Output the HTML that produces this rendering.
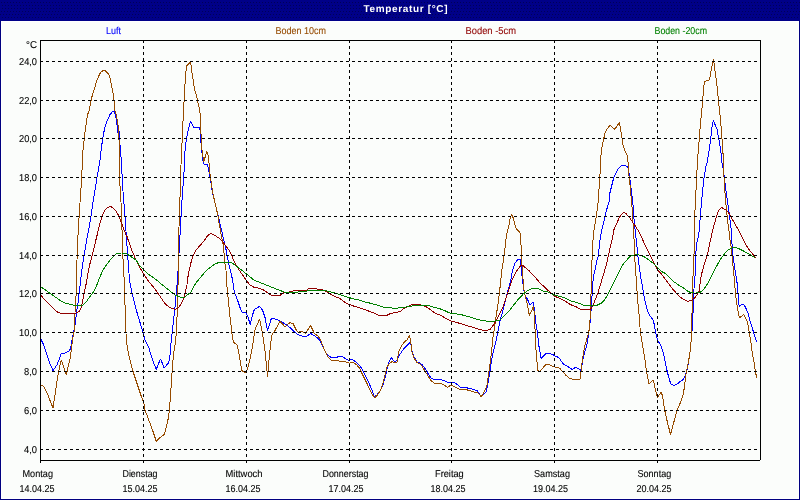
<!DOCTYPE html>
<html><head><meta charset="utf-8"><title>Temperatur</title>
<style>
html,body{margin:0;padding:0;background:#000080;}
body{width:800px;height:500px;overflow:hidden;position:relative;}
svg{position:absolute;left:0;top:0;display:block;}
text{text-rendering:geometricPrecision;font-family:"Liberation Sans", "DejaVu Sans", sans-serif;font-size:10px;color:#000;fill:currentColor;stroke:currentColor;stroke-width:0.1px;}
</style></head><body>
<svg width="800" height="500" viewBox="0 0 800 500">
<defs><pattern id="dith" x="0" y="0" width="3" height="21" patternUnits="userSpaceOnUse"><rect width="3" height="21" fill="#000088"/><g fill="#000058"><rect x="1" y="2" width="1" height="1"/><rect x="2" y="5" width="1" height="1"/><rect x="2" y="8" width="1" height="1"/><rect x="1" y="11" width="1" height="1"/><rect x="0" y="14" width="1" height="1"/><rect x="2" y="17" width="1" height="1"/></g></pattern></defs>
<rect x="0" y="0" width="800" height="500" fill="#000080"/>
<rect x="0" y="0" width="800" height="21" fill="url(#dith)" shape-rendering="crispEdges"/>
<rect x="1" y="21" width="798" height="478" fill="#ffffff"/>
<rect x="2" y="22" width="796" height="476" fill="#fbfdfb"/>
<text x="363.5" y="12" textLength="84" lengthAdjust="spacing" style="font-weight:bold;color:#fff;stroke:none">Temperatur [°C]</text>
<text x="106" y="34" textLength="15" lengthAdjust="spacingAndGlyphs" style="color:#0000ff">Luft</text>
<text x="275.5" y="34" textLength="50.5" lengthAdjust="spacingAndGlyphs" style="color:#964b00">Boden 10cm</text>
<text x="465.5" y="34" textLength="50.5" lengthAdjust="spacingAndGlyphs" style="color:#900000">Boden -5cm</text>
<text x="654.5" y="34" textLength="52.5" lengthAdjust="spacingAndGlyphs" style="color:#008000">Boden -20cm</text>
<text x="26" y="48" textLength="11" lengthAdjust="spacingAndGlyphs">°C</text>
<g fill="none" stroke-width="1" stroke-linejoin="bevel" shape-rendering="crispEdges">
<polyline stroke="#0000ff" points="40.00,337.50 43.75,345.00 46.25,352.50 50.00,363.75 53.00,370.50 57.00,365.00 61.25,353.75 65.00,353.00 68.75,351.25 70.50,348.75 72.00,340.00 73.60,332.00 75.00,325.30 75.90,318.60 76.60,311.80 77.80,305.10 78.90,295.00 80.00,286.00 81.10,276.00 82.50,265.00 86.25,242.50 90.00,222.50 93.75,197.50 97.00,177.50 100.00,160.00 100.75,152.50 102.50,140.00 104.50,128.75 107.00,121.25 110.00,114.50 112.50,111.75 114.00,111.50 115.50,115.00 117.00,125.00 118.00,132.50 119.00,131.25 120.00,145.00 121.50,162.50 122.50,185.00 124.50,210.00 126.25,235.00 128.00,260.00 129.50,280.00 132.50,295.00 136.25,310.00 140.00,322.50 143.75,335.00 145.00,340.00 148.75,347.50 152.50,360.00 156.25,369.50 160.50,358.75 164.25,368.00 168.75,362.50 170.00,355.00 171.25,340.00 172.50,330.00 175.00,307.50 176.25,292.50 177.50,280.00 180.00,235.00 182.00,200.00 184.00,172.00 184.50,166.00 184.70,154.80 185.60,144.70 186.70,136.90 187.80,132.40 189.00,126.80 190.40,121.20 192.30,124.60 194.00,127.90 196.80,127.40 199.60,127.40 200.40,132.40 201.00,142.50 201.80,150.30 202.40,157.00 203.50,163.75 204.60,164.90 206.30,164.30 207.40,164.90 207.90,166.70 209.00,172.30 210.20,177.90 211.30,184.60 212.40,192.50 214.10,199.20 215.80,205.90 217.40,212.60 218.50,216.70 220.20,224.60 221.80,231.30 223.50,239.10 225.20,245.80 226.65,252.50 227.80,259.30 229.30,266.00 232.00,277.50 232.50,280.00 234.40,292.50 237.50,300.00 240.00,307.50 241.90,312.25 245.60,312.50 248.10,317.50 250.25,324.40 252.50,315.00 254.40,309.40 256.90,308.10 259.40,306.25 262.50,310.00 265.00,317.50 267.50,330.60 269.40,325.00 271.25,318.75 273.75,318.50 276.25,319.40 280.00,321.00 283.75,323.10 287.50,325.60 291.25,328.75 295.00,332.50 298.75,335.00 300.00,335.00 302.50,336.25 306.25,336.50 310.60,333.50 313.75,335.25 316.90,337.50 319.40,339.75 321.90,345.00 325.00,351.25 327.50,355.00 331.25,357.50 336.25,357.50 339.40,356.25 342.50,356.50 345.60,358.75 348.75,360.60 351.90,359.40 355.00,361.25 358.75,364.40 361.90,368.75 365.00,375.00 368.75,382.50 371.90,390.00 374.40,396.90 376.90,395.00 380.00,391.25 382.50,386.25 384.40,380.00 386.25,372.50 387.50,366.25 389.40,361.25 391.25,357.50 393.10,360.00 395.00,361.90 396.90,360.00 398.75,356.25 401.25,352.50 403.75,348.75 406.25,346.25 409.40,343.10 410.60,341.90 411.90,351.25 413.75,356.25 416.90,361.90 420.00,363.10 421.90,364.40 424.40,367.50 426.90,371.25 428.75,375.00 431.25,378.10 435.00,380.00 438.10,379.75 440.00,379.40 443.75,380.60 447.50,382.25 451.25,382.50 455.60,383.10 458.10,385.25 460.60,387.25 465.00,387.50 470.00,388.50 473.75,389.40 477.50,391.00 479.40,393.75 481.25,396.90 483.75,394.40 486.25,391.90 487.50,386.25 488.75,378.75 490.00,371.25 491.25,362.50 492.50,355.00 494.40,347.50 496.25,340.00 497.50,333.75 499.40,323.75 501.25,316.25 503.10,310.00 505.60,300.00 508.10,290.00 510.60,281.25 512.40,270.30 515.10,263.00 517.80,259.50 520.00,259.00 521.40,268.50 522.30,279.20 524.40,293.75 527.50,299.40 530.00,305.00 533.10,301.90 534.40,308.75 535.60,321.25 537.50,332.50 538.75,345.00 541.25,358.75 543.75,355.60 546.25,353.50 550.00,353.50 553.10,354.75 555.60,356.25 558.75,357.50 563.10,363.75 567.50,366.25 571.90,369.40 575.60,367.50 578.75,368.50 580.60,370.60 581.90,365.00 583.10,358.75 585.00,351.25 586.90,345.00 588.10,337.50 588.75,332.50 589.75,325.00 590.60,317.50 591.25,307.50 591.90,297.50 592.50,288.75 593.10,280.00 594.00,273.75 595.00,270.00 596.50,262.00 598.40,256.00 599.00,249.30 600.10,239.20 601.20,232.50 602.90,225.80 604.60,217.90 606.20,211.20 607.90,205.60 609.60,200.00 610.00,192.50 613.75,177.50 617.50,170.00 618.75,168.10 621.25,166.00 623.75,165.00 626.25,166.00 628.10,167.50 630.00,180.00 631.50,192.50 632.55,200.00 633.70,213.40 634.20,222.40 635.35,231.40 636.50,242.60 637.30,249.30 637.90,256.00 639.00,265.00 639.75,270.00 640.60,277.50 642.50,286.25 643.75,295.00 645.60,303.75 647.50,311.25 649.40,315.00 651.25,317.50 653.10,320.00 654.40,325.00 655.60,332.00 657.50,340.00 661.25,346.25 663.75,355.00 666.25,367.50 668.75,377.50 670.75,383.75 673.75,385.50 677.50,383.75 680.00,381.60 682.80,380.00 685.00,376.00 687.00,370.40 688.40,362.50 690.10,351.25 691.25,340.00 692.25,328.75 693.10,311.25 694.00,288.75 695.00,276.25 695.75,254.60 696.60,243.40 697.40,240.00 698.75,235.00 701.25,205.00 703.75,180.00 706.25,165.00 707.25,162.00 708.75,152.50 710.60,140.00 711.50,131.25 712.50,123.75 713.50,120.25 715.00,124.40 716.90,128.75 718.10,135.00 719.40,142.50 720.60,150.00 721.50,157.50 721.90,162.00 723.75,172.50 726.25,192.50 728.75,210.00 731.25,230.00 731.75,240.00 732.30,247.90 733.10,256.90 734.60,267.00 736.00,276.00 737.40,285.00 738.10,294.00 738.70,303.50 739.60,306.90 741.30,304.60 743.60,304.10 745.80,308.00 748.10,313.60 749.75,320.40 752.00,327.10 753.70,332.75 755.40,338.40 756.50,341.75"/>
<polyline stroke="#964b00" points="40.00,385.00 43.75,386.25 47.50,393.75 51.25,403.75 53.00,408.00 55.00,395.00 57.50,377.50 59.50,367.50 61.25,360.00 63.75,367.50 66.25,375.00 68.00,367.50 70.00,358.75 71.25,350.00 72.50,340.00 74.00,332.00 74.70,320.80 75.00,313.00 75.50,297.30 76.60,295.00 76.60,276.00 77.00,260.00 78.00,235.00 79.50,210.00 81.25,185.00 82.50,160.00 83.00,150.00 85.00,132.50 87.50,115.00 89.30,110.00 91.00,100.50 92.50,94.50 94.50,88.50 96.50,81.50 98.50,76.50 100.80,72.00 104.00,70.00 105.50,71.00 109.50,75.30 111.50,85.00 113.00,93.00 114.00,100.00 114.80,110.00 116.25,115.00 118.00,125.00 119.00,140.00 119.50,150.00 119.50,166.00 119.50,180.00 120.40,191.20 121.00,202.40 121.50,213.60 121.70,224.80 122.40,236.00 122.60,254.00 123.10,260.00 124.20,280.00 124.80,288.00 125.00,305.00 126.25,340.00 128.75,355.00 132.50,370.00 137.50,385.00 141.25,396.25 143.75,402.50 145.00,410.00 148.75,420.00 152.50,430.00 156.25,441.25 160.00,437.50 164.25,434.50 166.25,427.50 168.75,416.25 170.00,402.50 171.25,385.00 172.50,365.00 173.75,352.50 175.50,342.00 176.30,333.00 176.90,319.60 177.40,308.40 178.00,286.00 178.40,260.00 178.75,235.00 179.50,210.00 180.50,185.00 181.00,166.00 181.10,154.80 182.00,143.60 182.80,126.80 183.40,110.00 184.20,100.00 184.50,93.00 185.50,75.50 186.50,66.00 190.00,62.50 190.50,62.00 191.20,66.00 192.00,73.00 193.30,81.00 194.50,89.00 195.50,93.00 196.80,96.50 197.50,101.25 199.00,107.00 199.60,110.00 200.20,114.50 200.70,129.00 201.30,139.00 201.80,148.00 203.00,157.00 203.70,161.50 205.20,157.00 206.90,151.40 207.80,153.70 208.60,159.30 209.30,166.00 209.90,173.40 210.70,179.00 211.80,186.90 213.00,193.60 214.60,201.40 216.30,208.20 218.00,216.00 219.00,223.40 220.40,230.20 221.80,238.00 223.00,243.60 223.70,250.30 224.40,257.00 225.20,266.00 226.00,270.00 226.25,280.00 228.10,297.50 229.40,311.25 231.25,327.50 232.50,338.75 233.75,342.50 236.90,344.40 238.75,352.50 240.60,363.75 241.90,370.60 244.40,372.50 246.25,373.10 247.50,368.75 250.00,358.75 252.50,346.25 254.00,336.25 255.00,330.00 256.90,325.00 259.60,319.40 261.90,330.00 263.10,337.50 265.00,351.25 266.50,365.00 267.50,376.90 268.50,365.00 270.00,350.00 271.50,336.25 272.50,333.75 275.00,330.60 276.25,328.00 280.00,321.25 285.00,326.90 290.00,322.50 293.10,323.75 296.25,330.00 298.75,332.50 300.00,331.25 302.50,331.90 305.60,333.50 308.10,329.40 310.60,325.60 312.50,329.40 314.40,333.75 317.50,335.60 320.00,338.75 322.50,345.00 325.00,351.25 327.50,356.25 331.25,360.00 336.25,360.60 340.00,361.25 344.40,361.50 349.40,363.10 352.50,362.25 356.25,364.40 359.40,368.10 362.50,374.40 366.25,381.90 370.00,390.00 373.10,395.60 374.75,398.10 377.50,395.00 380.60,390.00 383.10,382.50 385.00,375.00 386.90,366.90 389.40,363.75 391.90,361.50 395.00,362.75 396.90,362.50 398.75,351.90 401.25,346.25 404.40,341.90 406.90,340.00 409.50,335.50 410.60,340.60 411.90,351.25 413.75,357.50 416.90,362.50 420.00,363.75 422.50,366.90 425.00,371.25 427.50,375.00 430.60,380.00 435.00,384.00 440.00,383.10 443.75,385.00 447.50,387.25 451.25,385.00 455.00,386.90 459.40,389.10 465.00,389.40 470.00,390.60 473.75,391.90 477.50,392.50 479.40,394.40 481.25,396.90 484.40,391.25 486.90,386.25 488.10,377.50 489.40,368.75 490.60,358.75 491.90,348.75 492.50,340.00 493.75,332.50 495.00,323.75 496.90,311.25 498.75,298.75 499.75,290.00 500.60,281.90 501.60,272.00 504.30,254.00 506.50,235.40 507.90,229.10 509.00,225.00 509.65,220.70 510.70,216.50 511.50,214.60 513.50,218.60 514.50,222.80 515.60,227.00 516.70,229.00 518.40,230.90 520.50,233.30 521.40,254.00 522.30,272.00 523.10,280.00 523.75,288.75 525.00,295.00 526.90,302.50 529.40,315.60 531.90,310.00 533.50,306.25 534.40,315.00 535.00,328.75 535.60,345.00 536.90,360.00 537.50,370.00 539.40,371.25 541.25,370.00 543.75,366.90 546.25,364.40 548.75,364.40 551.25,365.60 554.40,366.90 559.40,368.10 562.50,371.25 566.25,375.60 570.00,378.75 575.00,379.40 580.00,379.40 580.60,375.00 581.50,367.50 582.50,358.75 583.75,351.25 585.00,345.00 586.90,338.75 588.75,332.50 589.40,327.50 590.00,320.00 590.60,307.50 591.00,295.00 591.25,282.50 591.50,270.00 592.20,256.00 592.50,247.00 593.10,239.20 593.90,230.20 595.00,224.60 596.20,216.80 596.90,212.30 597.80,205.60 598.40,199.00 598.60,190.00 599.40,188.00 599.60,180.00 600.00,174.60 600.60,160.00 601.50,150.00 602.50,145.00 603.75,138.75 605.00,133.10 606.50,129.40 610.25,125.25 614.40,129.40 616.90,126.25 619.40,122.50 620.60,128.75 621.90,137.50 623.10,145.60 625.00,151.25 627.25,155.60 628.10,162.50 628.50,172.00 630.00,185.00 631.40,200.00 632.00,206.70 632.55,216.80 633.10,224.60 633.70,233.60 634.20,242.60 634.60,256.00 635.60,270.00 636.50,282.50 637.25,295.00 638.10,305.00 639.00,313.75 639.75,322.50 640.25,332.00 642.50,345.00 645.00,360.00 646.30,370.00 649.10,384.00 653.30,379.80 654.70,386.80 657.50,397.30 661.00,392.40 662.40,395.20 664.50,409.20 667.30,421.80 670.50,434.40 674.30,420.40 677.10,410.60 680.60,402.20 683.40,393.80 684.80,384.00 685.50,377.00 686.90,370.00 688.40,362.50 690.10,351.25 691.25,340.00 691.25,332.75 691.80,318.10 692.40,303.50 692.40,290.00 692.90,279.40 693.30,268.10 693.50,255.75 694.10,253.50 694.60,240.00 695.00,210.00 696.25,185.00 697.50,160.00 698.75,145.00 699.75,132.50 700.60,121.25 701.90,110.00 702.50,100.00 703.10,95.00 703.75,87.50 704.40,81.90 706.90,80.60 709.40,79.75 710.60,73.75 711.50,68.75 712.50,63.10 713.50,59.40 714.40,66.25 715.25,72.50 716.25,79.40 717.10,86.90 717.90,95.00 718.50,100.00 719.40,110.00 720.60,120.00 721.25,130.00 721.90,137.50 722.50,145.00 723.10,155.00 723.75,162.00 723.90,175.00 725.00,192.50 726.25,207.50 727.50,220.00 729.50,235.00 730.00,240.00 731.20,246.75 732.00,254.60 732.90,264.75 733.80,273.75 734.60,282.75 735.35,291.75 736.25,300.10 737.40,306.90 738.30,312.50 739.40,318.10 741.30,316.40 743.60,314.20 745.80,318.10 747.50,322.60 748.60,328.25 749.75,335.00 750.90,341.75 752.00,351.25 753.70,360.25 755.10,369.25 755.90,373.75 756.50,377.70"/>
<polyline stroke="#900000" points="40.50,295.00 43.60,298.40 48.10,302.90 52.60,307.40 57.00,311.80 60.40,313.20 66.00,313.50 71.60,313.50 76.10,313.00 79.40,311.30 81.10,307.90 82.20,302.90 83.40,297.30 85.00,289.40 86.40,282.70 87.50,276.00 89.50,265.60 91.20,258.90 92.90,252.20 94.60,245.40 96.20,238.70 97.90,232.00 98.50,229.30 100.20,222.60 101.90,217.00 103.60,212.50 105.80,209.10 109.70,206.30 112.50,207.40 115.30,210.20 117.60,213.60 119.30,217.00 120.90,221.40 122.60,225.90 124.30,230.40 126.00,234.90 127.00,236.50 129.30,243.20 131.50,249.90 133.75,254.40 135.40,258.90 141.25,270.00 147.50,280.00 153.75,287.50 160.00,296.25 165.00,303.75 170.00,307.50 175.00,309.50 178.75,307.50 182.50,301.25 185.00,293.75 187.00,285.00 187.20,280.80 188.90,271.80 190.60,264.00 192.80,256.20 195.60,250.60 199.50,246.10 203.40,241.60 207.40,236.00 210.60,233.30 214.00,234.90 217.90,237.40 221.30,240.00 224.10,243.60 226.90,247.50 229.10,250.30 231.40,254.80 233.60,260.40 235.80,264.90 240.00,271.25 244.00,277.00 246.90,281.25 249.40,284.40 253.75,287.25 258.75,288.10 262.50,289.40 266.25,291.90 271.25,295.25 275.00,295.25 280.00,295.25 283.75,292.90 287.50,292.50 292.50,291.25 296.25,290.25 300.00,290.40 306.25,290.40 307.75,289.35 309.25,288.40 316.75,288.40 317.50,289.50 322.00,289.65 325.00,290.60 328.00,292.50 331.00,294.40 334.00,295.90 337.00,297.40 340.00,298.50 345.00,302.50 350.00,304.75 355.00,306.50 360.00,308.10 365.00,309.75 370.00,311.50 375.00,313.50 378.75,315.60 382.50,315.60 386.25,315.60 390.00,313.75 395.00,312.50 400.00,311.70 403.40,308.90 406.70,307.20 410.10,305.50 412.90,304.40 419.60,304.40 425.80,306.60 430.20,309.40 433.60,312.20 437.00,313.90 441.40,315.60 445.90,318.40 449.20,320.10 451.50,321.20 456.00,322.30 460.00,323.40 465.00,325.00 470.00,326.50 475.00,328.10 480.00,329.75 483.75,330.25 486.90,330.25 490.00,329.40 492.50,326.25 495.00,322.50 497.50,318.10 500.00,313.10 502.50,308.10 505.00,301.25 507.50,293.75 509.40,287.50 511.25,281.90 516.00,272.00 520.50,265.80 523.20,265.80 528.60,270.30 534.00,275.70 540.00,283.10 543.75,286.25 547.50,290.00 551.25,293.10 555.00,296.40 560.00,298.50 565.00,301.00 570.00,304.40 576.25,306.90 580.60,309.40 585.00,309.40 590.00,309.40 591.90,307.50 593.75,303.75 595.60,298.75 598.00,293.00 600.10,285.50 602.50,277.90 605.00,269.50 607.00,262.40 608.60,254.60 610.30,246.70 612.00,240.00 614.10,229.10 616.90,223.00 619.70,216.80 623.40,212.30 626.40,214.00 629.75,217.90 633.10,223.00 635.90,226.90 638.70,231.40 641.50,237.00 644.90,244.80 648.20,251.50 652.50,260.00 657.50,270.00 661.25,273.75 665.00,278.75 668.75,283.75 672.50,288.75 676.25,293.10 680.00,297.00 683.90,299.60 687.90,301.25 691.25,300.70 694.60,297.90 696.90,295.00 698.60,292.25 699.70,290.00 700.25,280.00 702.50,270.40 704.75,262.50 707.35,254.80 709.30,245.70 711.25,236.60 713.20,228.20 715.20,221.00 717.10,214.50 719.05,210.00 721.40,207.40 723.60,208.65 726.20,210.00 728.80,213.20 731.40,217.75 734.00,222.30 736.60,226.90 739.20,231.40 741.80,236.60 744.40,241.80 747.00,246.40 749.60,250.30 752.20,253.50 754.80,256.80 755.50,258.00"/>
<polyline stroke="#008000" points="40.50,286.60 44.70,289.40 49.20,292.80 54.80,296.70 60.40,300.60 64.90,302.90 69.40,304.20 73.80,305.30 78.30,305.60 82.80,305.30 86.20,301.80 89.50,297.30 92.90,292.80 95.60,288.20 98.50,280.50 102.40,271.20 105.80,265.60 109.70,260.60 113.60,256.00 117.00,253.30 121.40,253.00 125.90,253.30 129.30,255.50 132.60,257.80 136.00,260.00 140.00,266.25 147.50,273.75 155.00,278.75 162.50,285.00 168.75,290.00 175.00,295.00 181.25,297.50 185.00,297.00 188.75,293.75 191.10,292.00 193.90,286.40 196.70,281.90 199.50,278.60 202.90,274.60 206.20,270.70 209.60,267.90 213.00,265.30 216.30,263.40 219.70,262.30 224.20,262.10 228.60,262.10 232.00,262.90 234.70,264.90 240.00,268.75 246.25,273.75 253.75,280.00 260.00,282.50 266.25,285.00 272.50,287.50 278.75,290.00 285.00,292.25 290.00,292.50 295.00,292.25 300.00,291.90 305.00,291.25 315.00,290.00 325.00,290.50 335.00,293.00 345.00,296.25 352.00,298.50 358.75,300.00 365.00,301.90 372.50,303.75 378.75,305.60 383.75,307.25 390.00,307.75 395.00,308.40 400.00,307.80 404.50,307.20 411.20,306.10 416.80,305.00 428.00,305.50 433.60,307.20 440.30,308.90 444.80,310.60 449.20,312.80 452.60,313.40 459.90,314.50 463.75,315.25 470.00,317.10 476.25,319.00 482.50,320.60 487.50,321.25 492.50,321.25 496.25,320.90 500.00,320.00 503.75,316.25 508.75,311.25 513.75,305.00 518.75,298.75 523.75,293.50 528.75,290.00 533.10,288.10 537.50,288.50 540.00,289.40 543.75,291.25 547.50,291.90 551.25,293.75 555.00,295.40 560.00,296.50 565.00,298.10 571.25,301.00 577.50,302.75 583.75,305.25 590.00,305.60 596.25,305.60 601.25,303.10 605.00,299.40 608.10,293.75 611.25,287.50 615.00,280.00 618.10,273.75 620.00,270.00 622.50,265.00 630.00,256.25 637.50,254.50 640.00,255.20 644.50,256.90 649.00,260.20 652.30,262.50 655.70,265.80 659.00,269.20 662.40,272.00 665.80,273.70 669.10,277.00 673.60,281.50 679.20,285.40 683.40,287.80 686.75,290.60 691.25,292.90 695.75,293.10 700.25,292.30 703.60,289.50 708.10,282.75 712.60,273.75 717.10,265.30 720.50,259.10 723.90,254.60 727.25,250.70 730.60,248.40 734.00,247.60 737.40,248.10 740.75,249.60 744.10,251.25 747.50,253.30 750.90,255.20 753.70,256.90 755.10,258.00"/>
</g>
<g stroke="#000" stroke-width="1" stroke-dasharray="3 3" shape-rendering="crispEdges" fill="none">
<line x1="143.5" y1="40" x2="143.5" y2="463" /><line x1="246.5" y1="40" x2="246.5" y2="463" /><line x1="349.5" y1="40" x2="349.5" y2="463" /><line x1="451.5" y1="40" x2="451.5" y2="463" /><line x1="554.5" y1="40" x2="554.5" y2="463" /><line x1="657.5" y1="40" x2="657.5" y2="463" /><line x1="40" y1="61.5" x2="760" y2="61.5" /><line x1="40" y1="100.5" x2="760" y2="100.5" /><line x1="40" y1="138.5" x2="760" y2="138.5" /><line x1="40" y1="177.5" x2="760" y2="177.5" /><line x1="40" y1="216.5" x2="760" y2="216.5" /><line x1="40" y1="255.5" x2="760" y2="255.5" /><line x1="40" y1="293.5" x2="760" y2="293.5" /><line x1="40" y1="332.5" x2="760" y2="332.5" /><line x1="40" y1="371.5" x2="760" y2="371.5" /><line x1="40" y1="410.5" x2="760" y2="410.5" /><line x1="40" y1="449.5" x2="760" y2="449.5" />
</g>
<g stroke="#000" stroke-width="1" shape-rendering="crispEdges" fill="none">
<line x1="40.5" y1="40" x2="40.5" y2="463"/>
<line x1="40" y1="40.5" x2="761" y2="40.5"/>
<line x1="760.5" y1="40" x2="760.5" y2="460"/>
<line x1="40" y1="460.5" x2="760" y2="460.5"/>
</g>

<text x="19" y="65" textLength="18" lengthAdjust="spacingAndGlyphs">24,0</text><text x="19" y="104" textLength="18" lengthAdjust="spacingAndGlyphs">22,0</text><text x="19" y="142" textLength="18" lengthAdjust="spacingAndGlyphs">20,0</text><text x="19" y="181" textLength="18" lengthAdjust="spacingAndGlyphs">18,0</text><text x="19" y="220" textLength="18" lengthAdjust="spacingAndGlyphs">16,0</text><text x="19" y="259" textLength="18" lengthAdjust="spacingAndGlyphs">14,0</text><text x="19" y="297" textLength="18" lengthAdjust="spacingAndGlyphs">12,0</text><text x="19" y="336" textLength="18" lengthAdjust="spacingAndGlyphs">10,0</text><text x="24" y="375" textLength="13" lengthAdjust="spacingAndGlyphs">8,0</text><text x="24" y="414" textLength="13" lengthAdjust="spacingAndGlyphs">6,0</text><text x="24" y="453" textLength="13" lengthAdjust="spacingAndGlyphs">4,0</text>
<text x="22.5" y="477" textLength="30.5" lengthAdjust="spacingAndGlyphs">Montag</text><text x="19.5" y="492" textLength="35" lengthAdjust="spacingAndGlyphs">14.04.25</text><text x="122.5" y="477" textLength="35" lengthAdjust="spacingAndGlyphs">Dienstag</text><text x="122.5" y="492" textLength="35" lengthAdjust="spacingAndGlyphs">15.04.25</text><text x="225.5" y="477" textLength="37" lengthAdjust="spacingAndGlyphs">Mittwoch</text><text x="225.5" y="492" textLength="35" lengthAdjust="spacingAndGlyphs">16.04.25</text><text x="322.5" y="477" textLength="46" lengthAdjust="spacingAndGlyphs">Donnerstag</text><text x="328.5" y="492" textLength="35" lengthAdjust="spacingAndGlyphs">17.04.25</text><text x="435" y="477" textLength="28.75" lengthAdjust="spacingAndGlyphs">Freitag</text><text x="430.5" y="492" textLength="35" lengthAdjust="spacingAndGlyphs">18.04.25</text><text x="534" y="477" textLength="36" lengthAdjust="spacingAndGlyphs">Samstag</text><text x="533" y="492" textLength="35" lengthAdjust="spacingAndGlyphs">19.04.25</text><text x="637.5" y="477" textLength="33.75" lengthAdjust="spacingAndGlyphs">Sonntag</text><text x="636.5" y="492" textLength="35" lengthAdjust="spacingAndGlyphs">20.04.25</text>
</svg>
</body></html>
